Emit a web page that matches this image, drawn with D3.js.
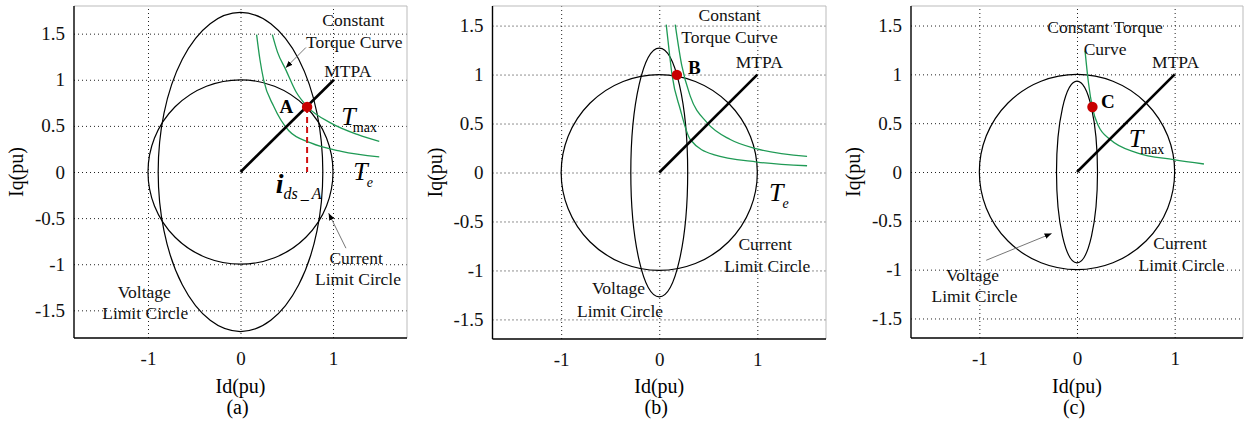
<!DOCTYPE html>
<html>
<head>
<meta charset="utf-8">
<script src="https://cdn.jsdelivr.net/npm/d3@7/dist/d3.min.js"></script>
<style>
  body { margin: 0; background: #fff; }
  svg { display: block; font-family: "Liberation Serif", "Times New Roman", serif; }
</style>
</head>
<body>
<svg width="1246" height="423"></svg>
<script>

// ---- values ----
const xTicks = [-1, 0, 1];
const yTicks = [-1.5, -1, -0.5, 0, 0.5, 1, 1.5];
const panelNames = ['(a)', '(b)', '(c)'];
const axisLimits = [1.8, 1.7, 1.7];

const currentRadius = [1, 1, 1];
const voltageRadii = [[0.89, 1.73], [0.29, 1.27], [0.21, 0.93]];
const mtpaEnds = [[1.01, 1.0], [1.0, 1.0], [1.0, 1.0]];

const torqueA = [
  [[0.344, 1.49], [0.40, 1.30], [0.489, 1.11], [0.60, 0.87], [0.725, 0.706], [0.978, 0.53], [1.27, 0.405], [1.50, 0.333]],
  [[0.174, 1.49], [0.21, 1.22], [0.25, 1.0], [0.36, 0.71], [0.52, 0.45], [0.76, 0.315], [1.09, 0.224], [1.50, 0.163]]
];
const torqueB = [
  [[0.163, 1.51], [0.23, 1.09], [0.316, 0.78], [0.487, 0.509], [0.724, 0.337], [0.997, 0.241], [1.507, 0.165]],
  [[0.071, 1.51], [0.10, 1.25], [0.13, 1.0], [0.214, 0.646], [0.316, 0.337], [0.554, 0.182], [0.997, 0.107], [1.507, 0.069]]
];
const torqueC = [
  [[0.082, 1.243], [0.117, 0.917], [0.158, 0.66], [0.22, 0.47], [0.34, 0.333], [0.615, 0.196], [0.99, 0.127], [1.30, 0.082]]
];

const opPoints = [
  { name: 'A', id: 0.72, iq: 0.706 },
  { name: 'B', id: 0.18, iq: 0.997 },
  { name: 'C', id: 0.158, iq: 0.666 }
];

// ---- layout ----
const frames = [
  { left: 74, right: 407, top: 6, bottom: 338 },
  { left: 492.5, right: 826, top: 6, bottom: 339 },
  { left: 911, right: 1243, top: 6, bottom: 338 }
];

const labelsA = [
  { t: 'Constant', x: 1.22, y: 1.65 },
  { t: 'Torque Curve', x: 1.23, y: 1.41 },
  { t: 'MTPA', x: 1.16, y: 1.09 },
  { t: 'Current', x: 1.25, y: -0.93 },
  { t: 'Limit Circle', x: 1.27, y: -1.16 },
  { t: 'Voltage', x: -1.04, y: -1.30 },
  { t: 'Limit Circle', x: -1.03, y: -1.53 }
];
const labelsB = [
  { t: 'Constant', x: 0.717, y: 1.61 },
  { t: 'Torque Curve', x: 0.717, y: 1.385 },
  { t: 'MTPA', x: 1.02, y: 1.128 },
  { t: 'Current', x: 1.08, y: -0.728 },
  { t: 'Limit Circle', x: 1.10, y: -0.95 },
  { t: 'Voltage', x: -0.415, y: -1.18 },
  { t: 'Limit Circle', x: -0.40, y: -1.415 }
];
const labelsC = [
  { t: 'Constant Torque', x: 0.287, y: 1.483 },
  { t: 'Curve', x: 0.287, y: 1.26 },
  { t: 'MTPA', x: 1.01, y: 1.13 },
  { t: 'Current', x: 1.055, y: -0.73 },
  { t: 'Limit Circle', x: 1.07, y: -0.953 },
  { t: 'Voltage', x: -1.07, y: -1.055 },
  { t: 'Limit Circle', x: -1.05, y: -1.27 }
];

const panels = [
  { torque: torqueA, labels: labelsA, pointLabel: [0.497, 0.713],
    torqueNames: [{ sub: 'max', x: 1.09, y: 0.60 }, { sub: 'e', x: 1.22, y: 0.0 }],
    arrows: [[[0.707, 1.35], [0.489, 1.13]], [[1.14, -0.826], [0.953, -0.446]]], dashed: true },
  { torque: torqueB, labels: labelsB, pointLabel: [0.357, 1.076],
    torqueNames: [{ sub: 'e', x: 1.12, y: -0.21 }], arrows: [], dashed: false },
  { torque: torqueC, labels: labelsC, pointLabel: [0.315, 0.72],
    torqueNames: [{ sub: 'max', x: 0.53, y: 0.34 }],
    arrows: [[[-0.93, -0.904], [-0.26, -0.63]]], dashed: false }
];

const svg = d3.select('svg');

svg.append('defs').append('marker')
  .attr('id', 'arrow')
  .attr('viewBox', '0 0 10 10')
  .attr('refX', 10).attr('refY', 5)
  .attr('markerWidth', 7).attr('markerHeight', 7)
  .attr('markerUnits', 'userSpaceOnUse')
  .attr('orient', 'auto')
  .append('path')
  .attr('d', 'M0,1 L10,5 L0,9 Z')
  .attr('fill', '#000');

const green = '#1f9a55';
const serif = '"Liberation Serif", "Times New Roman", serif';

panels.forEach((p, i) => {
  const f = frames[i];
  const lim = axisLimits[i];
  const x = d3.scaleLinear().domain([-lim, lim]).range([f.left, f.right]);
  const y = d3.scaleLinear().domain([-lim, lim]).range([f.bottom, f.top]);
  const w = f.right - f.left;
  const h = f.bottom - f.top;

  const g = svg.append('g');

  // grid + tick labels
  const xAxis = g.append('g')
    .attr('transform', `translate(0,${f.bottom})`)
    .call(d3.axisBottom(x).tickValues(xTicks).tickSize(-h).tickPadding(14).tickFormat(d => String(d)));
  const yAxis = g.append('g')
    .attr('transform', `translate(${f.left},0)`)
    .call(d3.axisLeft(y).tickValues(yTicks).tickSize(-w).tickPadding(9).tickFormat(d => String(d)));

  [xAxis, yAxis].forEach(a => {
    a.attr('font-family', serif);
    a.select('.domain').remove();
    a.selectAll('line').attr('stroke', '#222').attr('stroke-width', 1).attr('stroke-dasharray', '1,3');
    a.selectAll('text').attr('font-size', 19).attr('fill', '#111');
  });

  // frame
  g.append('line').attr('x1', f.left).attr('x2', f.right).attr('y1', f.top).attr('y2', f.top)
    .attr('stroke', '#bbb');
  g.append('line').attr('x1', f.right).attr('x2', f.right).attr('y1', f.top).attr('y2', f.bottom)
    .attr('stroke', '#bbb');
  g.append('line').attr('x1', f.left).attr('x2', f.left).attr('y1', f.top).attr('y2', f.bottom)
    .attr('stroke', '#000').attr('stroke-width', 1.4);
  g.append('line').attr('x1', f.left).attr('x2', f.right).attr('y1', f.bottom).attr('y2', f.bottom)
    .attr('stroke', '#000').attr('stroke-width', 1.4);

  // axis titles
  g.append('text').attr('x', x(0)).attr('y', 393).attr('text-anchor', 'middle')
    .attr('font-size', 20).text('Id(pu)');
  g.append('text').attr('x', x(0) - 3).attr('y', 414).attr('text-anchor', 'middle')
    .attr('font-size', 20).text(panelNames[i]);
  g.append('text')
    .attr('transform', `translate(${f.left - 51},${y(0)}) rotate(-90)`)
    .attr('text-anchor', 'middle').attr('font-size', 20).text('Iq(pu)');

  // current limit circle
  g.append('ellipse')
    .attr('cx', x(0)).attr('cy', y(0))
    .attr('rx', x(currentRadius[i]) - x(0)).attr('ry', y(0) - y(currentRadius[i]))
    .attr('fill', 'none').attr('stroke', '#000').attr('stroke-width', 1.2);

  // voltage limit ellipse
  g.append('ellipse')
    .attr('cx', x(0)).attr('cy', y(0))
    .attr('rx', x(voltageRadii[i][0]) - x(0)).attr('ry', y(0) - y(voltageRadii[i][1]))
    .attr('fill', 'none').attr('stroke', '#000').attr('stroke-width', 1.2);

  // constant torque curves
  const line = d3.line().curve(d3.curveMonotoneX).x(d => x(d[0])).y(d => y(d[1]));
  g.selectAll('.torque').data(p.torque).enter()
    .append('path').attr('class', 'torque')
    .attr('d', line).attr('fill', 'none').attr('stroke', green).attr('stroke-width', 1.3);

  // MTPA
  g.append('line')
    .attr('x1', x(0)).attr('y1', y(0))
    .attr('x2', x(mtpaEnds[i][0])).attr('y2', y(mtpaEnds[i][1]))
    .attr('stroke', '#000').attr('stroke-width', 2.6);

  const op = opPoints[i];
  if (p.dashed) {
    g.append('line')
      .attr('x1', x(op.id)).attr('x2', x(op.id)).attr('y1', y(op.iq)).attr('y2', y(0))
      .attr('stroke', '#d01010').attr('stroke-width', 2).attr('stroke-dasharray', '6,4');
  }
  g.append('circle').attr('cx', x(op.id)).attr('cy', y(op.iq)).attr('r', 5.2).attr('fill', '#c80000');
  g.append('text').attr('x', x(p.pointLabel[0])).attr('y', y(p.pointLabel[1]))
    .attr('text-anchor', 'middle').attr('dominant-baseline', 'central')
    .attr('font-weight', 'bold').attr('font-size', 19).text(op.name);

  // arrows
  p.arrows.forEach(a => {
    g.append('line')
      .attr('x1', x(a[0][0])).attr('y1', y(a[0][1]))
      .attr('x2', x(a[1][0])).attr('y2', y(a[1][1]))
      .attr('stroke', '#777').attr('stroke-width', 1)
      .attr('marker-end', 'url(#arrow)');
  });

  // text labels
  g.selectAll('.lab').data(p.labels).enter()
    .append('text').attr('class', 'lab')
    .attr('x', d => x(d.x)).attr('y', d => y(d.y))
    .attr('text-anchor', 'middle').attr('dominant-baseline', 'central')
    .attr('font-size', 17.5).attr('fill', '#111').text(d => d.t);

  // torque names T_max / T_e
  p.torqueNames.forEach(t => {
    const txt = g.append('text').attr('x', x(t.x)).attr('y', y(t.y) + 8);
    txt.append('tspan').attr('font-style', 'italic').attr('font-size', 26).text('T');
    txt.append('tspan').attr('dy', 7).attr('dx', t.sub === 'e' ? -1 : -3)
      .attr('font-size', 14)
      .attr('font-style', t.sub === 'e' ? 'italic' : 'normal').text(t.sub);
  });

  // i_ds_A label
  if (p.dashed) {
    const txt = g.append('text').attr('x', x(0.38)).attr('y', y(-0.14) + 8);
    txt.append('tspan').attr('font-style', 'italic').attr('font-weight', 'bold').attr('font-size', 28).text('i');
    txt.append('tspan').attr('dy', 6).attr('font-style', 'italic').attr('font-size', 16).text('ds');
    txt.append('tspan').attr('dx', 3).attr('font-style', 'italic').attr('font-size', 16).text('_');
    txt.append('tspan').attr('dx', 3).attr('font-style', 'italic').attr('font-size', 16).text('A');
  }
});

</script>
</body>
</html>
